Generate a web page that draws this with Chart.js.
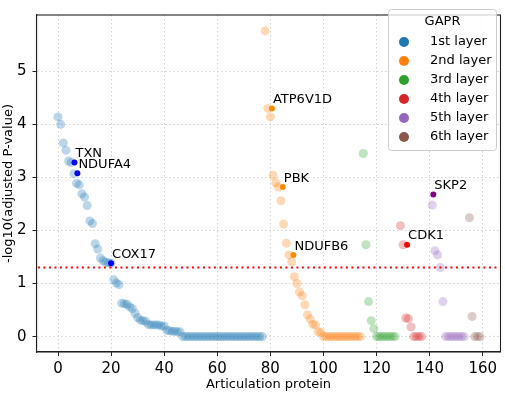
<!DOCTYPE html>
<html>
<head>
<meta charset="utf-8">
<script src="https://cdn.jsdelivr.net/npm/chart.js@4"></script>
<style>
  html, body { margin: 0; padding: 0; background: #fff; }
</style>
</head>
<body>
<canvas id="chart" width="505" height="393"></canvas>
<script>
// layers of articulation proteins
const layerNames = ['1st layer', '2nd layer', '3rd layer', '4th layer', '5th layer', '6th layer'];
const layerColors = ['#1f77b4', '#ff7f0e', '#2ca02c', '#d62728', '#9467bd', '#8c564b'];
const layerStart = [0, 78, 115, 129, 141, 155];

// -log10(adjusted P) per protein, in plotted order
const layer1 = [4.14, 4.00, 3.65, 3.51, 3.31, 3.28, 3.07, 2.89, 2.86, 2.69, 2.63, 2.47, 2.18, 2.13,
  1.75, 1.65, 1.48, 1.43, 1.40, 1.39, 1.38, 1.07, 1.01, 0.98, 0.63, 0.62, 0.61, 0.56, 0.53, 0.44,
  0.36, 0.31, 0.30, 0.29, 0.23, 0.22, 0.22, 0.22, 0.22, 0.20, 0.20, 0.12, 0.11, 0.10, 0.10, 0.09,
  0.09, 0, 0, 0, 0, 0, 0, 0, 0, 0, 0, 0, 0, 0, 0, 0, 0, 0, 0, 0, 0, 0, 0, 0, 0, 0, 0, 0, 0, 0, 0, 0];
const layer2 = [5.76, 4.30, 4.14, 3.04, 2.90, 2.82, 2.56, 2.12, 1.76, 1.54, 1.41, 1.13, 1.00, 0.84,
  0.77, 0.60, 0.41, 0.33, 0.23, 0.22, 0.09, 0.08, 0, 0, 0, 0, 0, 0, 0, 0, 0, 0, 0, 0, 0, 0, 0];
const layer3 = [3.45, 1.73, 0.66, 0.30, 0.15, 0, 0, 0, 0, 0, 0, 0, 0];
const layer4 = [2.09, 1.73, 0.35, 0.34, 0.18, 0, 0, 0, 0];
const layer5 = [2.48, 1.62, 1.54, 1.30, 0.66, 0, 0, 0, 0, 0, 0, 0, 0];
const layer6 = [2.24, 0.38, 0, 0, 0];
const layerValues = [layer1, layer2, layer3, layer4, layer5, layer6];

// highlighted proteins
const labelNames = ['TXN', 'NDUFA4', 'COX17', 'ATP6V1D', 'PBK', 'NDUFB6', 'CDK1', 'SKP2'];
const labelX = [6.2, 7.3, 20, 80.6, 84.7, 88.7, 131.5, 141.4];
const labelY = [3.28, 3.08, 1.38, 4.30, 2.82, 1.54, 1.73, 2.68];
const labelColors = ['#0000ff', '#0000ff', '#0000ff', '#ff8c00', '#ff8c00', '#ff8c00', '#ff0000', '#800080'];

const cutoff = 1.3; // -log10(0.05)
const xTickValues = [0, 20, 40, 60, 80, 100, 120, 140, 160];
const yTickValues = [0, 1, 2, 3, 4, 5];

Chart.defaults.font.family = 'DejaVu Sans';
Chart.defaults.font.size = 13;
Chart.defaults.color = '#000';

function fade(hex, a) {
  const n = parseInt(hex.slice(1), 16);
  return `rgba(${(n >> 16) & 255}, ${(n >> 8) & 255}, ${n & 255}, ${a})`;
}

const datasets = [];

datasets.push({
  label: 'highlight',
  data: labelX.map((x, i) => ({ x, y: labelY[i] })),
  pointRadius: 3,
  pointBorderWidth: 0,
  pointBackgroundColor: labelColors
});

datasets.push({
  label: 'cutoff',
  data: [{ x: -20, y: cutoff }, { x: 200, y: cutoff }],
  showLine: true,
  borderColor: '#ff0000',
  borderWidth: 2,
  borderDash: [2, 3.5],
  pointRadius: 0
});

layerValues.forEach((vals, k) => {
  datasets.push({
    label: layerNames[k],
    data: vals.map((v, i) => ({ x: layerStart[k] + i, y: v })),
    pointRadius: 4.5,
    pointBorderWidth: 0,
    pointBackgroundColor: fade(layerColors[k], 0.3)
  });
});

// labels next to highlighted points
const pointLabels = {
  id: 'pointLabels',
  afterDatasetsDraw(chart) {
    const { ctx, scales: { x, y } } = chart;
    ctx.save();
    ctx.font = '13px "DejaVu Sans"';
    ctx.fillStyle = '#000';
    ctx.textAlign = 'left';
    ctx.textBaseline = 'alphabetic';
    labelNames.forEach((name, i) => {
      ctx.fillText(name, x.getPixelForValue(labelX[i]) + 1, y.getPixelForValue(labelY[i] + 0.1));
    });
    ctx.restore();
  }
};

// frame and legend box in the upper right
const frameLegend = {
  id: 'frameLegend',
  afterDraw(chart) {
    const { ctx, chartArea: a } = chart;
    ctx.save();
    ctx.strokeStyle = '#222';
    ctx.lineWidth = 1.1;
    ctx.strokeRect(a.left, a.top, a.right - a.left, a.bottom - a.top);

    const bx = 388.5, by = 9.5, bw = 108, bh = 141;
    ctx.beginPath();
    ctx.roundRect(bx, by, bw, bh, 3);
    ctx.fillStyle = 'rgba(255,255,255,0.8)';
    ctx.fill();
    ctx.strokeStyle = '#cccccc';
    ctx.lineWidth = 1;
    ctx.stroke();

    ctx.font = '13px "DejaVu Sans"';
    ctx.fillStyle = '#000';
    ctx.textBaseline = 'middle';
    ctx.textAlign = 'center';
    ctx.fillText('GAPR', bx + bw / 2, 22);
    ctx.textAlign = 'left';
    layerNames.forEach((name, k) => {
      const cy = 42 + k * 19;
      ctx.beginPath();
      ctx.arc(404, cy, 5, 0, Math.PI * 2);
      ctx.fillStyle = layerColors[k];
      ctx.fill();
      ctx.fillStyle = '#000';
      ctx.fillText(name, 430, cy);
    });
    ctx.restore();
  }
};

const gridCommon = {
  color: '#d3d3d3',
  lineWidth: 1,
  tickLength: 4,
  tickColor: '#222',
  tickBorderDash: []
};

new Chart(document.getElementById('chart'), {
  type: 'scatter',
  data: { datasets },
  options: {
    responsive: false,
    animation: false,
    devicePixelRatio: 1,
    layout: { padding: { top: 2, right: 2, left: 0, bottom: 0 } },
    plugins: { legend: { display: false }, tooltip: { enabled: false } },
    scales: {
      x: {
        type: 'linear',
        min: -8.1,
        max: 166.7,
        afterBuildTicks: s => { s.ticks = xTickValues.map(v => ({ value: v })); },
        afterFit: s => { s.height = 41; },
        ticks: { padding: 4, maxRotation: 0, autoSkip: false, color: '#000', font: { size: 15 } },
        grid: gridCommon,
        border: { display: true, color: '#222', width: 1.1, dash: [1.5, 2.5] },
        title: { display: true, text: 'Articulation protein', padding: { top: 0, bottom: 1 }, color: '#000' }
      },
      y: {
        type: 'linear',
        min: -0.29,
        max: 6.06,
        afterBuildTicks: s => { s.ticks = yTickValues.map(v => ({ value: v })); },
        afterFit: s => { s.width = 36.5; },
        ticks: { padding: 6, color: '#000', font: { size: 15 } },
        grid: gridCommon,
        border: { display: true, color: '#222', width: 1.1, dash: [1.5, 2.5] },
        title: { display: true, text: '-log10(adjusted P-value)', padding: { top: 1, bottom: 0 }, color: '#000' }
      }
    }
  },
  plugins: [pointLabels, frameLegend]
});
</script>
</body>
</html>
